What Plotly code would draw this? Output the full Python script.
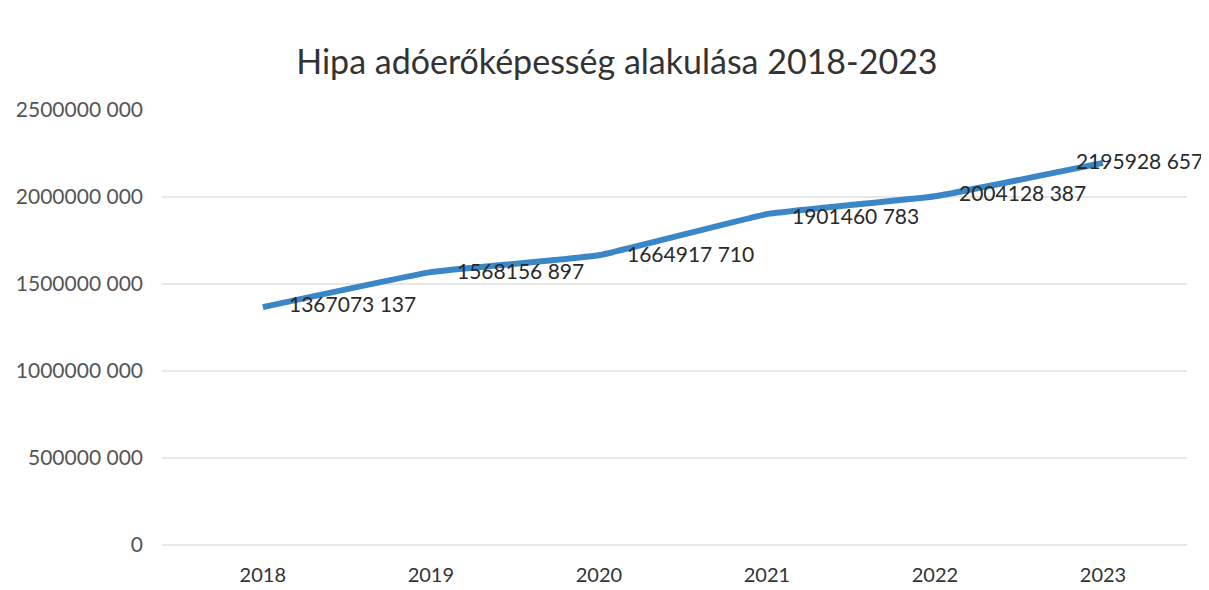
import plotly.graph_objects as go

years = ["2018", "2019", "2020", "2021", "2022", "2023"]
values = [1367073137, 1568156897, 1664917710, 1901460783, 2004128387, 2195928657]
value_labels = ["1367073 137", "1568156 897", "1664917 710", "1901460 783", "2004128 387", "2195928 657"]
ytick_vals = [0, 500000000, 1000000000, 1500000000, 2000000000, 2500000000]
ytick_labels = ["0", "500000 000", "1000000 000", "1500000 000", "2000000 000", "2500000 000"]
title = "Hipa adóerőképesség alakulása 2018-2023"

label_xshift = [24, 24, 26, 23, 22, -29]
label_yshift = [4, 2, 2, -1, 4, 2]

FONT = "Lato, 'Open Sans', sans-serif"

fig = go.Figure()
fig.add_trace(go.Scatter(
    x=years, y=values, mode="lines",
    line=dict(color="#3b86c6", width=6, shape="spline", smoothing=0.3),
    hoverinfo="skip", showlegend=False,
))

for i, (y, t, dx, dy) in enumerate(zip(values, value_labels, label_xshift, label_yshift)):
    fig.add_annotation(x=i, y=y, xref="x", yref="y", text=t, showarrow=False,
                       xanchor="left", yanchor="middle", xshift=dx, yshift=dy,
                       font=dict(family=FONT, size=21, color="#2a2a2a"))

# page body has an 8px margin, so the figure is sized to fit the window
fig.update_layout(
    width=1201, height=582,
    margin=dict(l=154, r=22, t=102, b=45),
    paper_bgcolor="white", plot_bgcolor="white",
    title=dict(text=title, x=0.507, xanchor="center", y=0.907, yanchor="middle",
               font=dict(family=FONT, size=34, color="#333333")),
    font=dict(family=FONT),
)
fig.update_xaxes(
    type="category", range=[-0.6, 5.5], showgrid=False, showline=False, zeroline=False,
    tickfont=dict(family=FONT, size=20, color="#333333"), ticklabelstandoff=16,
    automargin=False,
)
fig.update_yaxes(
    range=[0, 2500000000], tickvals=ytick_vals, ticktext=ytick_labels,
    showgrid=True, gridcolor="#e8e8e8", gridwidth=1.5, zeroline=True, zerolinecolor="#e8e8e8",
    zerolinewidth=1.5, showline=False,
    tickfont=dict(family=FONT, size=21, color="#555555"), ticklabelstandoff=18,
    automargin=False,
)

fig.write_html("out.html")
